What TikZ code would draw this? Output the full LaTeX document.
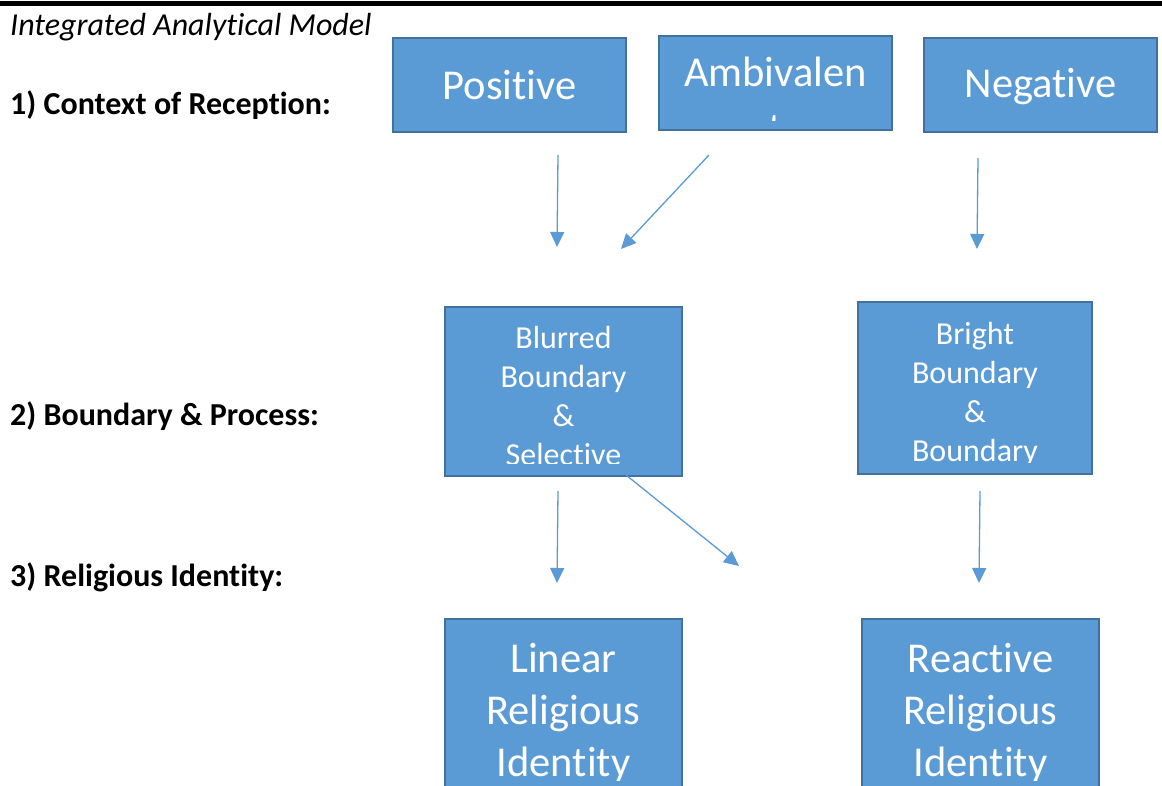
\documentclass[tikz,border=0pt]{standalone}
\usepackage{fontspec}
\setmainfont{Carlito}[Ligatures=NoCommon]
\usetikzlibrary{arrows.meta}
\definecolor{boxfill}{HTML}{5B9BD5}
\definecolor{boxline}{HTML}{41719C}
\newcommand{\bigtxt}{\fontsize{42.5}{52}\selectfont}
\newcommand{\midtxt}{\fontsize{32}{39}\selectfont}
\newcommand{\lbltxt}{\fontsize{32}{39}\selectfont}
\begin{document}
\begin{tikzpicture}[x=1pt,y=-1pt,
  box/.style={fill=boxfill,draw=boxline,line width=2pt,inner sep=0pt},
  boxtext/.style={text=white,align=center,anchor=base,inner sep=0pt},
  conn/.style={draw=boxfill,line width=1.3pt,-{Triangle[length=15pt,width=14pt]}},
  lbl/.style={anchor=base west,inner sep=0pt}]
\useasboundingbox (0,0) rectangle (1162,786);
\clip (0,0) rectangle (1162,786);
\fill[white] (0,0) rectangle (1162,786);
\draw[line width=5pt] (0,3.5) -- (1162,3.5);

% labels
\node[lbl,font=\itshape\lbltxt] (title) at (10,36) {Integrated Analytical Model};
\node[lbl,font=\bfseries\lbltxt] (l1) at (10,115) {1) Context of Reception:};
\node[lbl,font=\bfseries\lbltxt] (l2) at (10,425) {2) Boundary \& Process:};
\node[lbl,font=\bfseries\lbltxt] (l3) at (10,586) {3) Religious Identity:};

% row 1
\node[box,minimum width=233pt,minimum height=94pt] (pos) at (509.5,85) {};
\node[boxtext,font=\bigtxt] (postxt) at (509.5,100) {Positive};
\node[box,minimum width=233pt,minimum height=94pt] (amb) at (775.5,83) {};
\begin{scope}
  \clip (659,36) rectangle (892,121);
  \node[boxtext,font=\fontsize{42.5}{56}\selectfont] (ambtxt) at (775.5,143) {Ambivalen\\t};
\end{scope}
\node[box,minimum width=233pt,minimum height=94pt] (neg) at (1040.5,85) {};
\node[boxtext,font=\bigtxt] (negtxt) at (1040.5,98) {Negative};

% row 2
\node[box,minimum width=237pt,minimum height=169pt] (blur) at (563.5,391.5) {};
\begin{scope}
  \clip (445,307) rectangle (682,463);
  \node[boxtext,font=\midtxt] (blurtxt) at (563.5,465) {Blurred\\Boundary\\\&\\Selective};
\end{scope}
\node[box,minimum width=234pt,minimum height=172pt] (bright) at (975,388) {};
\begin{scope}
  \clip (858,302) rectangle (1092,462);
  \node[boxtext,font=\midtxt] (brighttxt) at (975,461) {Bright\\Boundary\\\&\\Boundary};
\end{scope}

% row 3
\node[box,minimum width=237pt,minimum height=181pt] (lin) at (563.5,709.5) {};
\begin{scope}
  \clip (445,619) rectangle (682,780);
  \node[boxtext,font=\bigtxt] (lintxt) at (563.5,776) {Linear\\Religious\\Identity};
\end{scope}
\node[box,minimum width=237pt,minimum height=181pt] (rea) at (980.5,709.5) {};
\begin{scope}
  \clip (862,619) rectangle (1099,780);
  \node[boxtext,font=\bigtxt] (reatxt) at (980.5,776) {Reactive\\Religious\\Identity};
\end{scope}

% connectors
\coordinate (a1s) at (558,155); \coordinate (a1e) at (557,247);
\coordinate (a2s) at (709,155); \coordinate (a2e) at (621,249);
\coordinate (a3s) at (978,158); \coordinate (a3e) at (977,249);
\coordinate (a4s) at (558,491); \coordinate (a4e) at (557,583);
\coordinate (a5s) at (626,475); \coordinate (a5e) at (739,566);
\coordinate (a6s) at (980,491); \coordinate (a6e) at (979,583);
\draw[conn] (a1s) -- (a1e);
\draw[conn] (a2s) -- (a2e);
\draw[conn] (a3s) -- (a3e);
\draw[conn] (a4s) -- (a4e);
\draw[conn] (a5s) -- (a5e);
\draw[conn] (a6s) -- (a6e);
\end{tikzpicture}
\end{document}
